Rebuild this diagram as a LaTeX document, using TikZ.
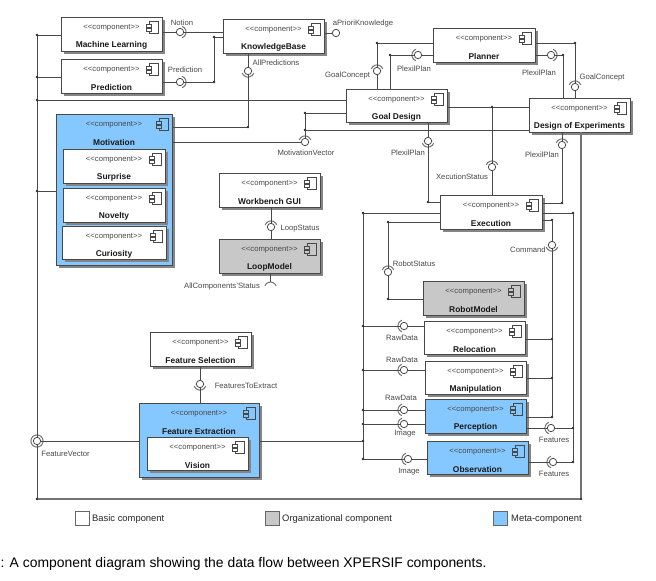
\documentclass[tikz,border=0pt]{standalone}
\usepackage{fontspec}
\setmainfont{Liberation Sans}
\usetikzlibrary{shadows,calc}
\definecolor{blu}{HTML}{85C8FF}
\definecolor{gry}{HTML}{C8C8C8}
\definecolor{ink}{HTML}{484848}
\tikzset{
  compbox/.style={draw=ink,line width=0.95pt,inner sep=0pt,outer sep=0pt,
    drop shadow={shadow xshift=2.6pt,shadow yshift=-2.6pt,fill=black!48,opacity=1}},
  stereo/.style={inner sep=0pt,text=ink,font=\fontsize{7.7}{9}\selectfont},
  title/.style={inner sep=0pt,text=black!90,font=\bfseries\fontsize{8.4}{10}\selectfont},
  lbl/.style={inner sep=0pt,text=ink,font=\fontsize{7.7}{9}\selectfont,yshift=-1pt},
  wire/.style={draw=ink,line width=0.8pt},
  bus/.style={draw=black!55,line width=1.2pt},
  jdot/.style={circle,fill=black!85,inner sep=0pt,minimum size=2.8pt,outer sep=0pt},
  ball/.style={circle,draw=ink,fill=white,line width=0.8pt,inner sep=0pt,minimum size=7.4pt,outer sep=0pt},
  sockarc/.style={draw=black!55,line width=1pt},
  legsq/.style={draw=black!60,line width=0.8pt,inner sep=0pt,minimum size=14pt},
  legtx/.style={inner sep=0pt,anchor=west,text=black!85,font=\fontsize{9.4}{11}\selectfont,yshift=-1pt},
}
\newcommand{\comp}[7]{%
  \node[compbox,fill=#6,minimum width={(#4-#2)*1pt},minimum height={(#5-#3)*1pt}] (#1) at ({(#2+#4)/2},{(#3+#5)/2}) {};
  \node[stereo] (#1s) at ([yshift=-11.3pt]#1.north) {<\kern0pt<component>\kern0pt>};
  \node[title] (#1t) at ([yshift=-28pt]#1.north) {#7};
  \begin{scope}[shift={(#1.north east)},draw=ink,line width=0.7pt]
    \draw (-13,4) rectangle (-3.5,16);
    \draw[fill=#6] (-16,7) rectangle (-10.5,10);
    \draw[fill=#6] (-16,11.5) rectangle (-10.5,14.5);
  \end{scope}}
\newcommand{\jd}[3]{\node[jdot] (#1) at (#2,#3) {};}
\newcommand{\sock}[4]{%
  \node[ball] (#1) at (#2,#3) {};
  \draw[sockarc] ([shift={(#4-70:6.1pt)}]#1.center) arc[start angle=#4-70,end angle=#4+70,radius=6.1pt];}
\newcommand{\lab}[4]{\node[lbl] (#1) at (#2,#3) {#4};}
\begin{document}
\begin{tikzpicture}[x=1pt,y=-1pt]
\useasboundingbox (0,0) rectangle (656,581);
% components
\comp{ml}{61}{17}{162}{51}{white}{Machine Learning}
\comp{pred}{61}{59}{162}{93}{white}{Prediction}
\comp{kb}{223}{19}{324}{53}{white}{KnowledgeBase}
\comp{mot}{56}{114}{172}{265}{blu}{Motivation}
\comp{sur}{63}{149}{165}{183}{white}{Surprise}
\comp{nov}{63}{188}{165}{222}{white}{Novelty}
\comp{cur}{62}{226}{166}{259}{white}{Curiosity}
\comp{wb}{219}{173}{320}{207}{white}{Workbench GUI}
\comp{loop}{219}{239}{320}{273}{gry}{LoopModel}
\comp{plan}{433}{28}{535}{62}{white}{Planner}
\comp{gd}{346}{89}{447}{122}{white}{Goal Design}
\comp{doe}{529}{98}{630}{132}{white}{Design of Experiments}
\comp{exe}{440}{195}{542}{229}{white}{Execution}
\comp{rob}{423}{281}{524}{315}{gry}{RobotModel}
\comp{rel}{424}{321}{525}{354}{white}{Relocation}
\comp{man}{425}{361}{526}{394}{white}{Manipulation}
\comp{per}{425}{399}{526}{433}{blu}{Perception}
\comp{obs}{427}{441}{528}{474}{blu}{Observation}
\comp{fs}{150}{332}{251}{366}{white}{Feature Selection}
\comp{fe}{139}{403}{259}{477}{blu}{Feature Extraction}
\comp{vis}{147}{437}{248}{470}{white}{Vision}
% junctions
\jd{bml}{37}{35}\jd{bpr}{37}{77}\jd{bgd}{37}{100}\jd{bmo}{37}{191}\jd{bbl}{37}{499}\jd{bbr}{581}{499}
\jd{dpk}{214}{82}\jd{dpk2}{214}{37}\jd{dap}{248}{127}\jd{dmu}{305}{113}\jd{dml}{305}{130}
\jd{dgl}{377}{43}\jd{dpl}{390}{55}\jd{dgr}{575}{43}\jd{dpr}{563}{55}\jd{dxs}{492}{107}
\jd{dpa}{428}{202}\jd{dpb}{562}{203}\jd{elt}{363}{213}\jd{ert}{573}{213}\jd{ecm}{552}{220}
\jd{drs}{388}{222}\jd{drb}{388}{299}
\jd{erel}{363}{326}\jd{eman}{363}{370}\jd{eper}{363}{410}\jd{eimg}{363}{424}\jd{efe}{363}{441}\jd{eobs}{363}{459}
\jd{crel}{552}{339}\jd{cman}{552}{378}\jd{cper}{552}{417}\jd{fper}{573}{428}\jd{fobs}{573}{462}
% sockets
\sock{snot}{180}{32}{0}
\sock{spre}{180}{82}{0}
\sock{sap}{248}{71}{270}
\node[ball] (sapk) at (336,33) {};
\sock{smv}{305}{142}{90}
\sock{sgl}{377}{71}{90}
\sock{spl}{418}{55}{180}
\sock{spr}{551}{55}{0}
\sock{sgr}{575}{87}{90}
\sock{spa}{428}{141}{270}
\sock{spb}{562}{145}{90}
\sock{sxs}{492}{167}{90}
\sock{scm}{552}{245}{270}
\sock{srs}{388}{272}{90}
\sock{srel}{404}{326}{180}
\sock{sman}{404}{370}{180}
\sock{sper}{404}{410}{180}
\sock{simg}{404}{424}{180}
\sock{sobs}{408}{459}{180}
\sock{sfpe}{551}{428}{180}
\sock{sfob}{553}{462}{180}
\sock{sfx}{200}{384}{270}
\sock{sls}{271}{227}{90}
\node[ball] (sfv) at (37,441) {};
\draw[sockarc] (sfv) circle[radius=6.1pt];
\coordinate (acs) at (270.5,288);
\coordinate (act) at (270.5,282);
\draw[sockarc] ([shift={(20:6pt)}]acs) arc[start angle=20,end angle=160,radius=6pt];
% connectors
\draw[wire] (bml) -- (bml -| ml.west);
\draw[wire] (bpr) -- (bpr -| pred.west);
\draw[wire] (bgd) -- (bgd -| gd.west);
\draw[wire] (bmo) -- (bmo -| mot.west);
\draw[wire] (bml) -- (bpr) -- (bgd) -- (bmo) -- (sfv) -- (bbl);
\draw[bus] (bbl) -- (bbr) -- (doe.south -| bbr);
\draw[wire] (snot -| ml.east) -- (snot) -- (snot -| kb.west);
\draw[wire] (spre -| pred.east) -- (spre) -- (dpk) -- (dpk2) -- (dpk2 -| kb.west);
\draw[wire] (sapk -| kb.east) -- (sapk);
\draw[wire] (kb.south -| sap) -- (sap) -- (dap) -- (dap -| mot.east);
\draw[wire] (smv -| mot.east) -- (smv) -- (dml) -- (dmu) -- (dmu -| gd.west);
\draw[wire] (dml) -- (dml -| doe.west);
\draw[wire] (plan.west |- dgl) -- (dgl) -- (sgl) -- (gd.north -| sgl);
\draw[wire] (plan.west |- spl) -- (spl) -- (dpl) -- (gd.north -| dpl);
\draw[wire] (plan.east |- dgr) -- (dgr) -- (sgr) -- (doe.north -| sgr);
\draw[wire] (plan.east |- spr) -- (spr) -- (dpr) -- (doe.north -| dpr);
\draw[wire] (gd.east |- dxs) -- (dxs) -- (doe.west |- dxs);
\draw[wire] (dxs) -- (sxs) -- (exe.north -| sxs);
\draw[wire] (gd.south -| spa) -- (spa) -- (dpa) -- (exe.west |- dpa);
\draw[wire] (doe.south -| spb) -- (spb) -- (dpb) -- (exe.east |- dpb);
\draw[wire] (elt) -- (exe.west |- elt);
\draw[wire] (ert) -- (exe.east |- ert);
\draw[wire] (ecm) -- (exe.east |- ecm);
\draw[wire] (drs) -- (exe.west |- drs);
\draw[wire] (drs) -- (srs) -- (drb) -- (rob.west |- drb);
\draw[wire] (elt) -- (erel) -- (eman) -- (eper) -- (eimg) -- (efe) -- (eobs);
\draw[wire] (ert) -- (fper) -- (fobs);
\draw[wire] (ecm) -- (scm) -- (crel) -- (cman) -- (cper);
\draw[wire] (erel) -- (srel) -- (rel.west |- srel);
\draw[wire] (eman) -- (sman) -- (man.west |- sman);
\draw[wire] (eper) -- (sper) -- (per.west |- sper);
\draw[wire] (eimg) -- (simg) -- (per.west |- simg);
\draw[wire] (eobs) -- (sobs) -- (obs.west |- sobs);
\draw[wire] (crel) -- (rel.east |- crel);
\draw[wire] (cman) -- (man.east |- cman);
\draw[wire] (cper) -- (per.east |- cper);
\draw[wire] (fper) -- (sfpe) -- (per.east |- sfpe);
\draw[wire] (fobs) -- (sfob) -- (obs.east |- sfob);
\draw[wire] (sfv) -- (sfv -| fe.west);
\draw[wire] (efe) -- (efe -| fe.east);
\draw[wire] (fs.south -| sfx) -- (sfx) -- (fe.north -| sfx);
\draw[wire] (wb.south -| sls) -- (sls) -- (loop.north -| sls);
\draw[wire] (loop.south -| act) -- (act);
% labels
\lab{l1}{182}{22}{Notion}
\lab{l2}{185}{69}{Prediction}
\lab{l3}{276}{62}{AllPredictions}
\lab{l4}{363}{23}{aPrioriKnowledge}
\lab{l5}{347.5}{75}{GoalConcept}
\lab{l6}{414}{68}{PlexilPlan}
\lab{l7}{539}{72}{PlexilPlan}
\lab{l8}{602}{77}{GoalConcept}
\lab{l9}{306}{152}{MotivationVector}
\lab{l10}{408}{152}{PlexilPlan}
\lab{l11}{542}{154}{PlexilPlan}
\lab{l12}{462}{176}{XecutionStatus}
\lab{l13}{528}{249}{Command}
\lab{l14}{414}{263}{RobotStatus}
\lab{l15}{402}{337}{RawData}
\lab{l16}{402}{359}{RawData}
\lab{l17}{401}{397}{RawData}
\lab{l18}{405}{433}{Image}
\lab{l19}{409}{471}{Image}
\lab{l20}{554}{439}{Features}
\lab{l21}{554}{473}{Features}
\lab{l22}{65.6}{453}{FeatureVector}
\lab{l23}{246}{385}{FeaturesToExtract}
\lab{l24}{300}{228}{LoopStatus}
\lab{l25}{222}{286}{AllComponents'Status}
% legend
\node[legsq,fill=white] (k1) at (82,518) {};
\node[legsq,fill=gry] (k2) at (272.5,518) {};
\node[legsq,fill=blu] (k3) at (500.5,518) {};
\node[legtx] (k1t) at (92,518) {Basic component};
\node[legtx] (k2t) at (282,518) {Organizational component};
\node[legtx] (k3t) at (511,518) {Meta-component};
% caption
\node[anchor=west,inner sep=0pt,text=black,font=\fontsize{13.9}{16}\selectfont] (cap) at (0.5,563.5) {: A component diagram showing the data flow between XPERSIF components.};
\end{tikzpicture}
\end{document}
